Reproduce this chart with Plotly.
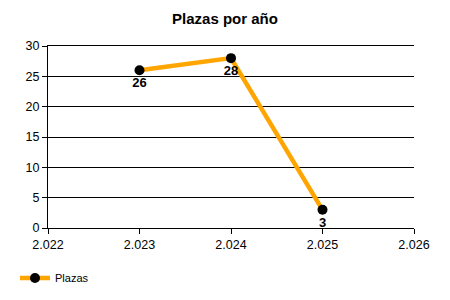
import plotly.graph_objects as go

years = [2023, 2024, 2025]
plazas = [26, 28, 3]
labels = ["26", "28", "3"]
x_ticks = [2022, 2023, 2024, 2025, 2026]
x_tick_text = ["2.022", "2.023", "2.024", "2.025", "2.026"]
y_ticks = [0, 5, 10, 15, 20, 25, 30]

fig = go.Figure()
fig.add_trace(go.Scatter(
    x=years, y=plazas, name="Plazas",
    mode="lines+markers+text",
    line=dict(color="#FFA500", width=4.5),
    marker=dict(color="black", size=10),
    text=labels, textposition="bottom center",
    textfont=dict(family="Liberation Sans, Arial", size=13, color="black", weight="bold"),
    cliponaxis=False,
))

fig.update_layout(
    width=450, height=300,
    margin=dict(l=48, r=36, t=46, b=72),
    paper_bgcolor="white", plot_bgcolor="white",
    font=dict(family="Liberation Sans, Arial", size=12.5, color="black"),
    title=dict(text="<b>Plazas por año</b>", x=0.5, xref="container", xanchor="center",
               y=1 - 19 / 300, yref="container", yanchor="middle",
               font=dict(size=15, color="black")),
    showlegend=True,
    legend=dict(orientation="h", xref="container", yref="container",
                x=15 / 450, y=1 - 278 / 300, xanchor="left", yanchor="middle",
                font=dict(size=11, color="black")),
    xaxis=dict(range=[2022, 2026], tickvals=x_ticks, ticktext=x_tick_text,
               showline=True, mirror=True, linecolor="black", linewidth=1,
               ticks="outside", ticklen=5, tickcolor="black",
               showgrid=False, zeroline=False),
    yaxis=dict(range=[0, 30], tickvals=y_ticks,
               showline=True, linecolor="black", linewidth=1,
               ticks="outside", ticklen=5, tickcolor="black",
               showgrid=True, gridcolor="black", gridwidth=1, zeroline=False),
)

fig.write_html("out.html")
